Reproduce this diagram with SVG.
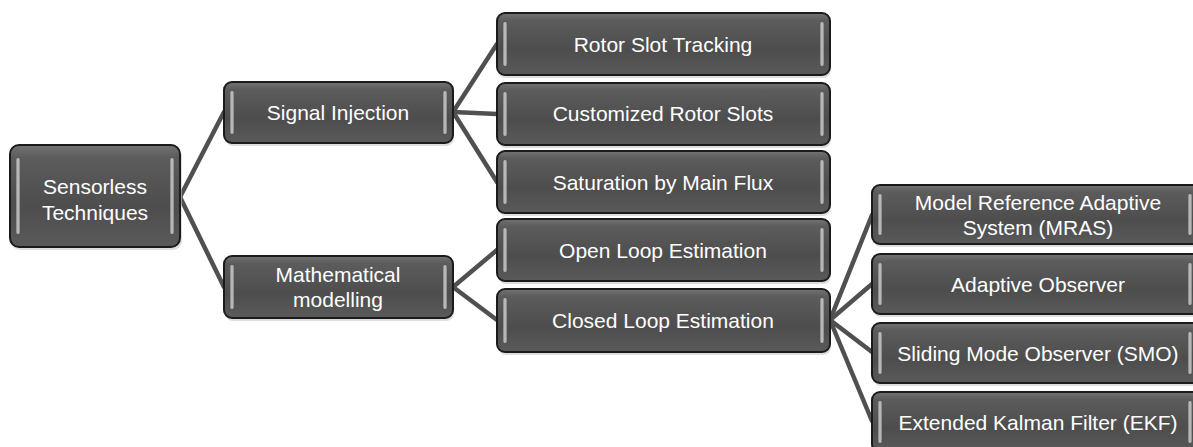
<svg xmlns="http://www.w3.org/2000/svg" width="1193" height="447" viewBox="0 0 1193 447">
<defs>
<linearGradient id="fill" x1="0" y1="0" x2="0" y2="1">
<stop offset="0" stop-color="#747474"/>
<stop offset="0.12" stop-color="#5c5c5c"/>
<stop offset="0.6" stop-color="#4d4d4d"/>
<stop offset="1" stop-color="#5a5a5a"/>
</linearGradient>
<linearGradient id="hl" x1="0" y1="0" x2="1" y2="0">
<stop offset="0" stop-color="#8a8a8a"/>
<stop offset="0.5" stop-color="#e8e8e8"/>
<stop offset="1" stop-color="#8a8a8a"/>
</linearGradient>
</defs>
<style>
.box{fill:url(#fill);stroke:#1b1b1b;stroke-width:2}
.sh{fill:#c8c8c8;opacity:0.6}
.hl{fill:url(#hl);opacity:0.8}
.t{font-family:"Liberation Sans",Arial,sans-serif;font-size:21px;fill:#ffffff;text-anchor:middle}
.c{stroke:#505050;stroke-width:4.5;fill:none;stroke-linecap:round}
</style>
<rect width="1193" height="447" fill="#ffffff"/>
<g id="connectors">
<line class="c" x1="180" y1="197" x2="224" y2="112"/>
<line class="c" x1="180" y1="197" x2="224" y2="287"/>
<line class="c" x1="453" y1="112" x2="497" y2="44"/>
<line class="c" x1="453" y1="112" x2="497" y2="114"/>
<line class="c" x1="453" y1="112" x2="497" y2="182"/>
<line class="c" x1="453" y1="287" x2="497" y2="250"/>
<line class="c" x1="453" y1="287" x2="497" y2="320"/>
<line class="c" x1="830" y1="320" x2="872" y2="215"/>
<line class="c" x1="830" y1="320" x2="872" y2="284"/>
<line class="c" x1="830" y1="320" x2="872" y2="352"/>
<line class="c" x1="830" y1="320" x2="872" y2="421"/>
</g>
<g id="n-sensorless">
<rect class="sh" x="11" y="148" width="171" height="102" rx="9"/>
<rect class="box" x="10" y="145" width="170" height="102" rx="9"/>
<rect class="hl" x="16" y="158" width="4" height="76" rx="2"/>
<rect class="hl" x="170" y="158" width="4" height="76" rx="2"/>
<text class="t" x="95" y="194">Sensorless</text>
<text class="t" x="95" y="220">Techniques</text>
</g>
<g id="n-signal">
<rect class="sh" x="225" y="85" width="229" height="61" rx="8"/>
<rect class="box" x="224" y="82" width="229" height="61" rx="8"/>
<rect class="hl" x="230" y="91" width="4" height="43" rx="2"/>
<rect class="hl" x="443" y="91" width="4" height="43" rx="2"/>
<text class="t" x="338" y="120">Signal Injection</text>
</g>
<g id="n-math">
<rect class="sh" x="225" y="259" width="229" height="62" rx="8"/>
<rect class="box" x="224" y="256" width="229" height="62" rx="8"/>
<rect class="hl" x="230" y="265" width="4" height="44" rx="2"/>
<rect class="hl" x="443" y="265" width="4" height="44" rx="2"/>
<text class="t" x="338" y="282">Mathematical</text>
<text class="t" x="338" y="307">modelling</text>
</g>
<g id="n-rst">
<rect class="sh" x="498" y="16" width="333" height="62" rx="8"/>
<rect class="box" x="497" y="13" width="333" height="62" rx="8"/>
<rect class="hl" x="503" y="22" width="4" height="44" rx="2"/>
<rect class="hl" x="820" y="22" width="4" height="44" rx="2"/>
<text class="t" x="663" y="52">Rotor Slot Tracking</text>
</g>
<g id="n-crs">
<rect class="sh" x="498" y="86" width="333" height="62" rx="8"/>
<rect class="box" x="497" y="83" width="333" height="62" rx="8"/>
<rect class="hl" x="503" y="92" width="4" height="44" rx="2"/>
<rect class="hl" x="820" y="92" width="4" height="44" rx="2"/>
<text class="t" x="663" y="121">Customized Rotor Slots</text>
</g>
<g id="n-sat">
<rect class="sh" x="498" y="154" width="333" height="62" rx="8"/>
<rect class="box" x="497" y="151" width="333" height="62" rx="8"/>
<rect class="hl" x="503" y="160" width="4" height="44" rx="2"/>
<rect class="hl" x="820" y="160" width="4" height="44" rx="2"/>
<text class="t" x="663" y="190">Saturation by Main Flux</text>
</g>
<g id="n-open">
<rect class="sh" x="498" y="222" width="333" height="62" rx="8"/>
<rect class="box" x="497" y="219" width="333" height="62" rx="8"/>
<rect class="hl" x="503" y="228" width="4" height="44" rx="2"/>
<rect class="hl" x="820" y="228" width="4" height="44" rx="2"/>
<text class="t" x="663" y="258">Open Loop Estimation</text>
</g>
<g id="n-closed">
<rect class="sh" x="498" y="292" width="333" height="63" rx="8"/>
<rect class="box" x="497" y="289" width="333" height="63" rx="8"/>
<rect class="hl" x="503" y="298" width="4" height="45" rx="2"/>
<rect class="hl" x="820" y="298" width="4" height="45" rx="2"/>
<text class="t" x="663" y="328">Closed Loop Estimation</text>
</g>
<g id="n-mras">
<rect class="sh" x="873" y="188" width="330" height="59" rx="8"/>
<rect class="box" x="872" y="185" width="330" height="59" rx="8"/>
<rect class="hl" x="878" y="194" width="4" height="41" rx="2"/>
<rect class="hl" x="1188" y="194" width="4" height="41" rx="2"/>
<text class="t" x="1038" y="210">Model Reference Adaptive</text>
<text class="t" x="1038" y="235">System (MRAS)</text>
</g>
<g id="n-adaptive">
<rect class="sh" x="873" y="257" width="330" height="60" rx="8"/>
<rect class="box" x="872" y="254" width="330" height="60" rx="8"/>
<rect class="hl" x="878" y="263" width="4" height="42" rx="2"/>
<rect class="hl" x="1188" y="263" width="4" height="42" rx="2"/>
<text class="t" x="1038" y="292">Adaptive Observer</text>
</g>
<g id="n-smo">
<rect class="sh" x="873" y="326" width="330" height="60" rx="8"/>
<rect class="box" x="872" y="323" width="330" height="60" rx="8"/>
<rect class="hl" x="878" y="332" width="4" height="42" rx="2"/>
<rect class="hl" x="1188" y="332" width="4" height="42" rx="2"/>
<text class="t" x="1038" y="361">Sliding Mode Observer (SMO)</text>
</g>
<g id="n-ekf">
<rect class="sh" x="873" y="395" width="330" height="60" rx="8"/>
<rect class="box" x="872" y="392" width="330" height="60" rx="8"/>
<rect class="hl" x="878" y="401" width="4" height="42" rx="2"/>
<rect class="hl" x="1188" y="401" width="4" height="42" rx="2"/>
<text class="t" x="1038" y="430">Extended Kalman Filter (EKF)</text>
</g>
</svg>
